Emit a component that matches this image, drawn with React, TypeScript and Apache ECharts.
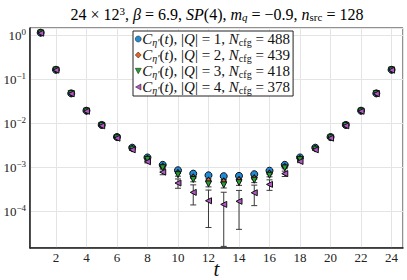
import React, { useEffect, useRef } from "react";
import * as echarts from "echarts";

const tValues = [1, 2, 3, 4, 5, 6, 7, 8, 9, 10, 11, 12, 13, 14, 15, 16, 17, 18, 19, 20, 21, 22, 23, 24];
const seriesKeys = ["Q1", "Q2", "Q3", "Q4"];
const qValues = [1, 2, 3, 4];
const nCfgValues = [488, 439, 418, 378];
const colors = ["#1f8ad8", "#e0622a", "#22a033", "#b455c8"];

const q1Values = [1.15, 0.165, 0.048, 0.0194, 0.0092, 0.0049, 0.0028, 0.00168, 0.00114, 0.00086, 0.00072, 0.00066, 0.00063, 0.00064, 0.0007, 0.00084, 0.00114, 0.00168, 0.0028, 0.0049, 0.0092, 0.0194, 0.048, 0.165];
const q2Values = [1.14, 0.164, 0.0477, 0.0192, 0.0091, 0.0048, 0.0027, 0.0016, 0.00106, 0.00076, 0.0006, 0.00051, 0.00049, 0.00053, 0.00058, 0.00074, 0.00105, 0.0016, 0.0027, 0.0048, 0.0091, 0.0192, 0.0477, 0.164];
const q3Values = [1.13, 0.163, 0.0473, 0.019, 0.009, 0.0047, 0.0026, 0.00152, 0.00098, 0.00068, 0.00053, 0.00042, 0.0004, 0.00045, 0.00051, 0.00066, 0.00097, 0.0015, 0.0026, 0.0047, 0.009, 0.019, 0.0473, 0.163];
const q4Values = [1.12, 0.162, 0.047, 0.0188, 0.0088, 0.0046, 0.0025, 0.00134, 0.00078, 0.00044, 0.00027, 0.000174, 0.000144, 0.000169, 0.000265, 0.00041, 0.00072, 0.00136, 0.0025, 0.0046, 0.0088, 0.0188, 0.047, 0.162];

const q1Errors = [0.01, 0.001, 0.0003, 0.0001, 0.00005, 0.00003, 0.00002, 0.00002, 0.00002, 0.000025, 0.00003, 0.00003, 0.00003, 0.00003, 0.00003, 0.000025, 0.00002, 0.00002, 0.00002, 0.00003, 0.00005, 0.0001, 0.0003, 0.001];
const q2Errors = [0.01, 0.001, 0.0003, 0.0001, 0.00006, 0.00004, 0.00003, 0.00003, 0.00003, 0.000035, 0.00004, 0.00004, 0.00004, 0.00004, 0.00004, 0.000035, 0.00003, 0.00003, 0.00003, 0.00004, 0.00006, 0.0001, 0.0003, 0.001];
const q3Errors = [0.01, 0.001, 0.0003, 0.0001, 0.00007, 0.00005, 0.00004, 0.00004, 0.00004, 0.00005, 0.00006, 0.00006, 0.00006, 0.00006, 0.00006, 0.00005, 0.00004, 0.00004, 0.00004, 0.00005, 0.00007, 0.0001, 0.0003, 0.001];
const q4Errors = [0.01, 0.001, 0.0003, 0.0001, 0.00008, 0.00007, 0.00007, 0.00008, 0.0001, 0.000105, 0.00013, 0.000131, 0.000128, 0.00013, 0.00013, 0.00011, 0.0001, 0.00008, 0.00007, 0.00007, 0.00008, 0.0001, 0.0003, 0.001];

const xMin = 0.3;
const xMax = 24.75;
const yMin = 1.47e-5;
const yMax = 1.47;

const FONT = "Liberation Serif";

const DOWN_TRI = "path://M0,0L10,0L5,9Z";
const LEFT_TRI = "path://M9,0L9,10L0,5Z";

export default function App() {
  const ref = useRef<HTMLDivElement>(null);
  useEffect(() => {
    if (!ref.current) return;
    const chart = echarts.init(ref.current, undefined, { renderer: "svg" });
    const allValues = [q1Values, q2Values, q3Values, q4Values];
    const allErrors = [q1Errors, q2Errors, q3Errors, q4Errors];
    const symbols = ["circle", "diamond", DOWN_TRI, LEFT_TRI];
    const symbolSizes: any[] = [7, [5, 6], 6, 6];
    const legendIcons = ["circle", "diamond", DOWN_TRI, LEFT_TRI];

    const errSeries = seriesKeys.map((k, si) => ({
      type: "custom",
      name: k + "_err",
      z: 1,
      clip: true,
      silent: true,
      data: tValues.map((t, i) => [t, allValues[si][i], allErrors[si][i]]),
      encode: { x: 0, y: 1 },
      renderItem: (params: any, api: any) => {
        const t = api.value(0);
        const v = api.value(1);
        const e = api.value(2);
        const loRaw = v - e;
        const lo = Math.max(loRaw, yMin);
        const hi = v + e;
        const pTop = api.coord([t, hi]);
        const pBot = api.coord([t, lo]);
        const st = { stroke: "#3a3a3a", lineWidth: 1 };
        const cap = 3;
        const children: any[] = [
          { type: "line", shape: { x1: pTop[0], y1: pTop[1], x2: pBot[0], y2: pBot[1] }, style: st },
          { type: "line", shape: { x1: pTop[0] - cap, y1: pTop[1], x2: pTop[0] + cap, y2: pTop[1] }, style: st },
        ];
        if (loRaw > yMin) {
          children.push({ type: "line", shape: { x1: pBot[0] - cap, y1: pBot[1], x2: pBot[0] + cap, y2: pBot[1] }, style: st });
        }
        return { type: "group", children };
      },
    }));

    const scatterSeries = seriesKeys.map((k, si) => ({
      type: "scatter",
      name: k,
      z: 2 + si,
      symbol: symbols[si],
      symbolSize: symbolSizes[si],
      itemStyle: { color: colors[si], borderColor: "#111", borderWidth: 1, opacity: 1 },
      data: tValues.map((t, i) => [t, allValues[si][i]]),
    }));

    const rich = {
      it: { fontFamily: FONT, fontStyle: "italic", fontSize: 15, lineHeight: 15, color: "#111" },
      r: { fontFamily: FONT, fontSize: 15, lineHeight: 15, color: "#111" },
      subi: { fontFamily: FONT, fontStyle: "italic", fontSize: 10, lineHeight: 9, padding: [6, 0, 0, 0], color: "#111" },
      subr: { fontFamily: FONT, fontSize: 10, lineHeight: 9, padding: [6, 0, 0, 0], color: "#111" },
    };

    chart.setOption({
      animation: false,
      backgroundColor: "#fff",
      grid: { left: 30, right: 4, top: 28, bottom: 32, show: true, borderColor: "#222", borderWidth: 1, outerBoundsMode: "none", containLabel: false },
      graphic: [
        {
          type: "text",
          x: 217,
          y: 14,
          style: {
            text: "{r|24 × 12}{sup|3}{r|, }{i|β}{r| = 6.9, }{i|SP}{r|(4), }{i|m}{sub|q}{r| = −0.9, }{i|n}{subr|src}{r| = 128}",
            align: "center",
            verticalAlign: "middle",
            rich: {
              r: { fontFamily: FONT, fontSize: 16, lineHeight: 16, color: "#111" },
              i: { fontFamily: FONT, fontStyle: "italic", fontSize: 16, lineHeight: 16, color: "#111" },
              sup: { fontFamily: FONT, fontSize: 11, lineHeight: 10, padding: [0, 0, 6, 0], color: "#111" },
              sub: { fontFamily: FONT, fontStyle: "italic", fontSize: 11, lineHeight: 10, padding: [6, 0, 0, 0], color: "#111" },
              subr: { fontFamily: FONT, fontSize: 11, lineHeight: 10, padding: [6, 0, 0, 0], color: "#111" },
            },
          },
        },
      ],
      legend: {
        data: seriesKeys.map((k, si) => ({
          name: k,
          icon: legendIcons[si],
          itemStyle: { color: colors[si], borderColor: "#111", borderWidth: 0.5 },
        })),
        orient: "vertical",
        left: 133,
        top: 31,
        itemWidth: 6,
        itemHeight: 6,
        itemGap: 0,
        padding: [0, 3, 1, 2],
        borderColor: "#222",
        borderWidth: 1,
        backgroundColor: "#fff",
        selectedMode: false,
        z: 10,
        textStyle: { rich, padding: [0, 0, 0, -4] },
        formatter: (name: string) => {
          const i = seriesKeys.indexOf(name);
          return `{it|C}{subi|η′}{r|(}{it|t}{r|), |}{it|Q}{r|| = ${qValues[i]}, }{it|N}{subr|cfg}{r| = ${nCfgValues[i]}}`;
        },
      },
      xAxis: {
        type: "value",
        min: xMin,
        max: xMax,
        splitNumber: 12,
        minInterval: 2,
        maxInterval: 2,
        name: "t",
        nameLocation: "middle",
        nameGap: 10,
        nameMoveOverlap: false,
        nameTextStyle: { fontFamily: FONT, fontStyle: "italic", fontSize: 21, color: "#111" },
        axisLine: { show: true, onZero: false, lineStyle: { color: "#222", width: 1.5 } },
        axisTick: { show: false },
        axisLabel: { showMinLabel: false, showMaxLabel: false, fontFamily: FONT, fontSize: 13, color: "#222", margin: 3 },
        splitLine: { show: true, lineStyle: { color: "#e4e4e4", width: 1 } },
      },
      yAxis: {
        type: "log",
        logBase: 10,
        min: yMin,
        max: yMax,
        axisLine: { show: true, onZero: false, lineStyle: { color: "#222", width: 1.5 } },
        axisTick: { show: false },
        axisLabel: {
          showMinLabel: false,
          showMaxLabel: false,
          margin: 4,
          formatter: (v: number) => {
            const e = Math.round(Math.log10(v));
            const es = e < 0 ? "−" + Math.abs(e) : String(e);
            return `{b|10}{e|${es}}`;
          },
          rich: {
            b: { fontFamily: FONT, fontSize: 13, lineHeight: 13, color: "#222" },
            e: { fontFamily: FONT, fontSize: 9, lineHeight: 8, padding: [0, 0, 7, 0], color: "#222" },
          },
        },
        splitLine: { show: true, lineStyle: { color: "#e4e4e4", width: 1 } },
      },
      series: [...errSeries, ...scatterSeries],
    });
    return () => chart.dispose();
  }, []);
  return <div ref={ref} style={{ position: "absolute", left: 0, top: 0, width: 407, height: 280 }} />;
}
